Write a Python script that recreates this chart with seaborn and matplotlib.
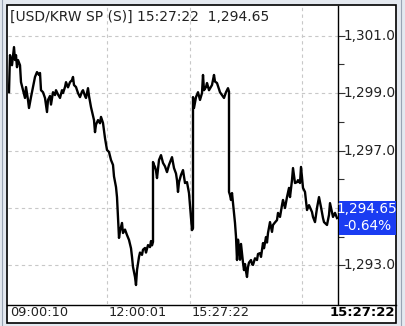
import matplotlib
matplotlib.use("Agg")
import matplotlib.pyplot as plt
import seaborn as sns
import pandas as pd
from matplotlib.patches import Rectangle
from matplotlib.lines import Line2D

# ---- data (tick index along the session, price) ----
tick_idx = [1, 2, 4, 6, 7, 8, 9, 10, 12, 13, 15, 17, 18, 20, 21, 23, 25, 27, 29, 31,
            32, 33, 35, 37, 39, 40, 42, 43, 45, 47, 48, 50, 52, 54, 55, 57, 58, 60, 62, 64,
            65, 66, 68, 70, 72, 74, 75, 77, 78, 80, 81, 83, 85, 86, 87, 88, 90, 92, 93, 95,
            97, 99, 101, 103, 105, 106, 108, 109, 110, 111, 112, 114, 115, 117, 119, 121, 123, 124, 125, 127,
            128, 129, 131, 132, 134, 135, 137, 138, 140, 142, 143, 144, 145, 145, 146, 147, 148, 149, 151, 153,
            155, 157, 159, 161, 164, 166, 168, 169, 170, 171, 173, 175, 177, 179, 180, 181, 182, 183, 184, 185,
            185, 186, 188, 190, 192, 194, 195, 196, 198, 199, 201, 204, 206, 207, 209, 212, 214, 216, 218, 220,
            221, 221, 222, 223, 224, 225, 227, 228, 229, 230, 231, 232, 233, 234, 235, 236, 237, 238, 239, 240,
            241, 243, 244, 245, 247, 249, 250, 252, 253, 255, 256, 258, 259, 260, 262, 264, 265, 267, 269, 270,
            272, 274, 275, 277, 279, 281, 282, 284, 285, 287, 289, 290, 292, 293, 295, 297, 299, 301, 304, 305,
            307, 309, 311, 313, 315, 316, 319, 321, 322, 324, 325, 327, 329]
price = [1299.03, 1300.32, 1299.97, 1300.60, 1300.15, 1300.32, 1299.90, 1300.15, 1299.97, 1299.38,
         1299.10, 1298.83, 1299.21, 1298.76, 1298.48, 1298.86, 1299.21, 1299.56, 1299.73, 1299.63,
         1299.70, 1299.10, 1299.03, 1298.83, 1298.34, 1298.76, 1298.90, 1298.60, 1299.03, 1298.93,
         1299.10, 1298.95, 1298.83, 1299.10, 1299.00, 1299.21, 1299.38, 1299.20, 1299.38, 1299.45,
         1299.56, 1299.28, 1299.21, 1299.00, 1298.86, 1299.05, 1299.10, 1298.90, 1298.83, 1299.17,
         1298.90, 1298.51, 1298.20, 1298.06, 1297.64, 1297.90, 1298.06, 1297.95, 1298.17, 1297.96,
         1297.43, 1297.02, 1296.95, 1296.67, 1296.50, 1296.10, 1295.73, 1295.38, 1294.65, 1293.96,
         1294.20, 1294.48, 1294.13, 1294.25, 1294.06, 1293.89, 1293.60, 1293.30, 1292.95, 1292.60,
         1292.32, 1292.84, 1293.30, 1293.45, 1293.37, 1293.55, 1293.61, 1293.45, 1293.71, 1293.64,
         1293.85, 1293.70, 1293.82, 1296.60, 1296.50, 1296.43, 1296.30, 1296.04, 1296.67, 1296.84,
         1296.57, 1296.45, 1296.25, 1296.50, 1296.77, 1296.39, 1296.20, 1295.97, 1295.56, 1295.90,
         1296.15, 1296.32, 1295.87, 1295.90, 1295.70, 1295.52, 1295.10, 1294.65, 1294.23, 1294.30,
         1298.86, 1298.48, 1298.86, 1299.03, 1298.76, 1299.00, 1299.63, 1299.10, 1299.21, 1299.35,
         1299.10, 1299.28, 1299.63, 1299.40, 1299.35, 1299.03, 1298.93, 1298.83, 1299.03, 1299.17,
         1299.05, 1295.56, 1295.45, 1295.28, 1295.52, 1295.17, 1294.48, 1294.00, 1293.19, 1293.90,
         1293.61, 1293.20, 1293.75, 1293.43, 1293.10, 1292.84, 1293.05, 1292.80, 1292.60, 1292.95,
         1293.10, 1293.19, 1293.05, 1293.02, 1293.25, 1293.19, 1293.40, 1293.43, 1293.30, 1293.78,
         1293.60, 1293.99, 1293.80, 1294.13, 1294.51, 1294.17, 1294.41, 1294.50, 1294.58, 1294.83,
         1294.69, 1295.10, 1295.28, 1295.00, 1295.38, 1295.70, 1295.38, 1295.97, 1296.39, 1295.87,
         1295.90, 1295.97, 1295.87, 1296.43, 1295.70, 1295.56, 1294.93, 1295.10, 1294.86, 1294.69,
         1294.51, 1295.00, 1295.38, 1295.03, 1294.65, 1294.51, 1294.41, 1294.76, 1295.17, 1294.86,
         1294.69, 1294.83, 1294.65]

y_major = [1293, 1295, 1297, 1299, 1301]
y_label_vals = [1293, 1297, 1299, 1301]          # 1,295.00 is hidden by the price box
y_label_text = ["1,293.00", "1,297.00", "1,299.00", "1,301.00"]
y_minor = [1294, 1296, 1298, 1300]
x_grid = [0, 99, 182, 294]
x_labels = ["09:00:10", "12:00:01", "15:27:22"]
title_text = "[USD/KRW SP (S)] 15:27:22  1,294.65"
last_price = "1,294.65"
change_pct = "-0.64%"
last_time = "15:27:22"

df = pd.DataFrame({"t": tick_idx, "p": price})

W, H = 405, 326
fig = plt.figure(figsize=(W / 100, H / 100), dpi=100)
fig.patch.set_facecolor("#e4e9f0")


def fx(x):
    return x / W


def fy(y):
    return 1 - y / H


# inner white panel with black frame (behind the axes)
fig.patches.append(Rectangle((fx(7), fy(323)), fx(396) - fx(7), fy(5) - fy(323),
                             transform=fig.transFigure, facecolor="white",
                             edgecolor="black", linewidth=1.2, zorder=-5))
for xx in (1.5, 400.5):
    fig.lines.append(Line2D([fx(xx), fx(xx)], [0, 1], transform=fig.transFigure,
                            color="#9aa4b4", linewidth=0.8, zorder=-4))

ax = fig.add_axes([fx(8), fy(304), fx(338) - fx(8), fy(6) - fy(304)])
ax.patch.set_alpha(0)
sns.lineplot(data=df, x="t", y="p", ax=ax, estimator=None, sort=False,
             color="black", linewidth=1.7)
ax.set_xlim(0, 330)
ax.set_ylim(1291.66, 1302.03)

for v in y_major:
    ax.axhline(v, color="#c8c8c8", linewidth=0.8, linestyle=(0, (3, 3)), zorder=0)
for v in x_grid[1:]:
    ax.axvline(v, color="#c8c8c8", linewidth=0.8, linestyle=(0, (3, 3)), zorder=0)

ax.set_xlabel("")
ax.set_ylabel("")
ax.set_xticks([])
ax.yaxis.tick_right()
ax.set_yticks(y_major)
ax.set_yticklabels([])
ax.set_yticks(y_minor, minor=True)
ax.tick_params(axis="y", which="major", direction="out", length=5, width=0.8, color="#333333")
ax.tick_params(axis="y", which="minor", direction="out", length=4, width=0.8, color="#333333")
for s in ["left", "top", "bottom"]:
    ax.spines[s].set_visible(False)
ax.spines["right"].set_color("black")
ax.spines["right"].set_linewidth(1.0)

# separator line over the time axis
fig.lines.append(Line2D([fx(7), fx(396)], [fy(304.5), fy(304.5)],
                        transform=fig.transFigure, color="black", linewidth=1.0))

# price label column (clipped at the frame)
lab = fig.add_axes([fx(338.5), fy(304), fx(396) - fx(338.5), fy(6) - fy(304)])
lab.set_xlim(0, 1)
lab.set_ylim(1291.66, 1302.03)
lab.axis("off")
for v, s in zip(y_label_vals, y_label_text):
    lab.text(0.08, v, s, ha="left", va="center", fontsize=9.8, color="#222222",
             clip_on=True)
lab.add_patch(Rectangle((0, 1294.07), 1, 1.18, facecolor="#1a3cf2", edgecolor="none",
                        zorder=3, clip_on=False))
lab.text(0.5, 1294.95, last_price, ha="center", va="center", fontsize=9.8, color="white", zorder=4)
lab.text(0.5, 1294.36, change_pct, ha="center", va="center", fontsize=9.8, color="white", zorder=4)

# title
ax.text(0.006, 0.965, title_text, transform=ax.transAxes, ha="left", va="center",
        fontsize=10, color="#222222")

# time labels
for xv, s in zip(x_grid[:3], x_labels):
    ax.text(xv + 2, -0.03, s, transform=ax.get_xaxis_transform(), ha="left",
            va="center", fontsize=9.3, color="#222222", clip_on=False)
fig.text(fx(395), fy(313), last_time, ha="right", va="center", fontsize=9.5,
         fontweight="bold", color="black")

fig.savefig("out.png", dpi=100, facecolor=fig.get_facecolor())
